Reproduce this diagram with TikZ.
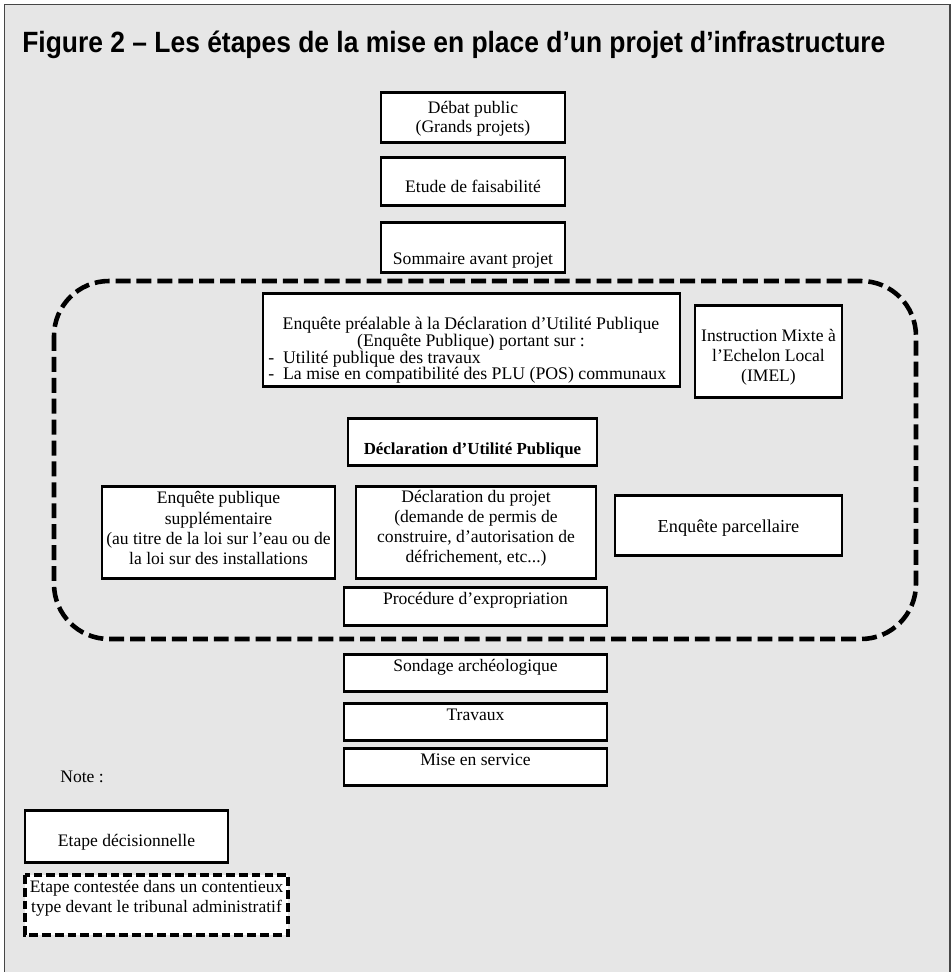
\documentclass[tikz,border=0pt]{standalone}
\usepackage{fontspec}
\setmainfont{Liberation Serif}
\newfontfamily\titlefont{Liberation Sans}
\usepackage{tikz}
\usepackage{xcolor}
\usetikzlibrary{positioning}
\definecolor{bggray}{RGB}{230,230,230}
\definecolor{framegray}{RGB}{70,70,70}

\begin{document}
\begin{tikzpicture}[scale=0.2,
  stepbox/.style={draw=black, fill=white, line width=1.7pt},
  bigdash/.style={draw=black, line width=2.6pt, dash pattern=on 8.5pt off 3.4pt},
  legdash/.style={draw=black, fill=white, line width=2pt, dash pattern=on 5pt off 2.3pt},
  txt/.style={font=\fontsize{10}{11.4}\selectfont, align=center}]
\tikzstyle{every node}+=[inner sep=0pt]
\useasboundingbox (0,0) rectangle (95.2,-97.2);
\fill [white] (0,0) rectangle (95.2,-97.2);
\draw [framegray, fill=bggray, line width=0.85pt] (0.45,-0.45) rectangle (95.0,-99);
\node (title) [anchor=base west] at (2.2,-5.2) {\resizebox{17.26cm}{0.43cm}{\titlefont\bfseries\fontsize{15.9}{19}\selectfont Figure 2 – Les étapes de la mise en place d’un projet d’infrastructure}};
\draw [bigdash, rounded corners=1.1cm] (5.4,-28.1) rectangle (91.6,-63.9);
\draw [stepbox] (38.1,-9.2) rectangle (56.5,-14.2);
\node (debat) [txt, font=\fontsize{10}{10.8}\selectfont] at (47.3,-11.85) {Débat public\\(Grands projets)};
\draw [stepbox] (38.1,-15.7) rectangle (56.5,-20.5);
\node (etude) [txt] at (47.3,-18.65) {Etude de faisabilité};
\draw [stepbox] (38.1,-22.2) rectangle (56.5,-27.2);
\node (sommaire) [txt] at (47.3,-26.05) {Sommaire avant projet};
\draw [stepbox] (26.3,-29.3) rectangle (68.0,-38.6);
\node (enquete) [txt, font=\fontsize{10.1}{9.9}\selectfont] at (47.1,-33.35) {Enquête préalable à la Déclaration d’Utilité Publique\\(Enquête Publique) portant sur :};
\node (enqliste) [txt, align=left, anchor=west, font=\fontsize{10.1}{9.3}\selectfont] at (26.8,-36.7) {-\ \ Utilité publique des travaux\\-\ \ La mise en compatibilité des PLU (POS) communaux};
\draw [stepbox] (69.5,-30.5) rectangle (84.2,-39.7);
\node (imel) [txt] at (76.85,-35.75) {Instruction Mixte à\\l’Echelon Local\\(IMEL)};
\draw [stepbox] (34.8,-41.8) rectangle (59.7,-46.5);
\node (dup) [txt, font=\fontsize{9.6}{11.4}\selectfont\bfseries] at (47.25,-45.0) {Déclaration d’Utilité Publique};
\draw [stepbox] (10.2,-48.6) rectangle (33.5,-57.8);
\node (supp) [txt] at (21.85,-52.8) {Enquête publique\\supplémentaire\\(au titre de la loi sur l’eau ou de\\la loi sur des installations};
\draw [stepbox] (35.6,-48.6) rectangle (59.6,-57.8);
\node (projet) [txt] at (47.6,-52.8) {Déclaration du projet\\(demande de permis de\\construire, d’autorisation de\\défrichement, etc...)};
\draw [stepbox] (61.5,-49.5) rectangle (84.2,-55.5);
\node (parcel) [txt, font=\fontsize{10.4}{11.4}\selectfont] at (72.85,-52.8) {Enquête parcellaire};
\draw [stepbox] (34.4,-58.7) rectangle (60.7,-62.5);
\node (expro) [txt, anchor=base] at (47.55,-60.45) {Procédure d’expropriation};
\draw [stepbox] (34.4,-65.4) rectangle (60.7,-69.1);
\node (sondage) [txt, anchor=base] at (47.55,-67.1) {Sondage archéologique};
\draw [stepbox] (34.4,-70.3) rectangle (60.7,-74.0);
\node (travaux) [txt, anchor=base] at (47.55,-72.0) {Travaux};
\draw [stepbox] (34.4,-74.8) rectangle (60.7,-78.5);
\node (service) [txt, anchor=base] at (47.55,-76.5) {Mise en service};
\node (note) [txt, anchor=west] at (6.0,-77.7) {Note :};
\draw [stepbox] (2.5,-81.0) rectangle (22.8,-86.2);
\node (decision) [txt] at (12.65,-84.2) {Etape décisionnelle};
\draw [legdash] (2.5,-87.5) rectangle (28.8,-93.5);
\node (conteste) [txt, font=\fontsize{9.95}{11.2}\selectfont] at (15.65,-89.8) {Etape contestée dans un contentieux\\type devant le tribunal administratif};
\end{tikzpicture}
\end{document}
